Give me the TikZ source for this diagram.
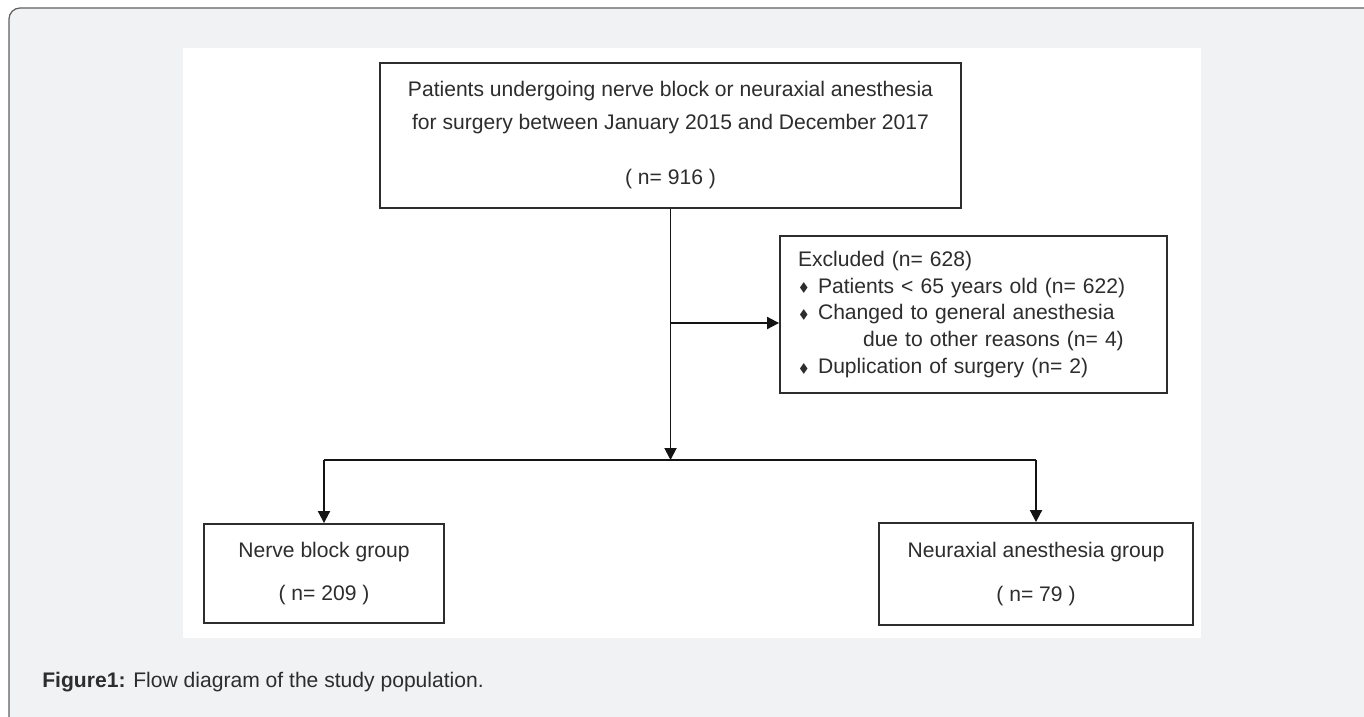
\documentclass[tikz,border=0pt]{standalone}
\usepackage{fontspec}
\setmainfont{Liberation Sans}
\usepackage{amssymb}
\usepackage{tikz}
\usetikzlibrary{arrows.meta, positioning, calc}
\definecolor{mypanel}{RGB}{241,242,244}
\definecolor{myedge}{RGB}{95,95,95}
\definecolor{mydark}{RGB}{20,20,20}
\definecolor{mytext}{RGB}{45,45,45}
\newcommand{\bul}{\makebox[0.4cm][l]{\hspace{0.02cm}\raisebox{0.08em}{\scriptsize$\blacklozenge$}}}
\tikzset{
  box/.style={rectangle, draw=mytext, fill=white, line width=1.1pt,
    align=center, inner sep=0pt, text=mytext,
    font=\fontsize{12}{15.3}\selectfont},
  arrow/.style={-{Triangle[width=0.24cm, length=0.24cm]}, line width=1.1pt, color=mydark},
  line/.style={line width=1.1pt, color=mydark}
}

\begin{document}
\begin{tikzpicture}[x=0.02cm, y=-0.02cm]
  \useasboundingbox (0,0) rectangle (1364,716);
  % background panel and figure area
  \draw[fill=mypanel, draw=myedge, line width=0.7pt, rounded corners=0.22cm] (9,8) rectangle (1390,760);
  \fill[white] (183,48) rectangle (1201,638);

  \node[box, minimum width=11.62cm, minimum height=2.9cm, font=\fontsize{12}{18.8}\selectfont] (pop) at (670.5,135.5)
    {Patients undergoing nerve block or neuraxial anesthesia\\
     for surgery between January 2015 and December 2017\\[12.5pt]
     ( n= 916 )};
  \node[box, minimum width=7.74cm, minimum height=3.14cm, text width=7.02cm, align=left] (excl) at (973.5,314.5)
    {Excluded (n= 628)\\
     \bul Patients < 65 years old (n= 622)\\
     \bul Changed to general anesthesia\\
     \hspace*{1.3cm}due to other reasons (n= 4)\\
     \bul Duplication of surgery (n= 2)};
  \node[box, minimum width=4.8cm, minimum height=1.98cm, font=\fontsize{12}{25}\selectfont] (nerve) at (324,573.5)
    {Nerve block group\\( n= 209 )};
  \node[box, minimum width=6.28cm, minimum height=2.04cm, font=\fontsize{12}{25}\selectfont] (neur) at (1036,574)
    {Neuraxial anesthesia group\\( n= 79 )};

  \coordinate (tap) at (670.5,323);
  \coordinate (split) at (670.5,460);

  \draw[arrow] (pop.south) -- (split);
  \draw[arrow] (tap) -- (tap -| excl.west);
  \draw[line] (nerve.north |- split) -- (neur.north |- split);
  \draw[arrow] (nerve.north |- split) -- (nerve.north);
  \draw[arrow] (neur.north |- split) -- (neur.north);

  \node[anchor=base west, text=mytext, font=\fontsize{12}{14}\selectfont, inner sep=0pt] (cap) at (42,687)
    {\textbf{Figure1:} Flow diagram of the study population.};
\end{tikzpicture}
\end{document}
